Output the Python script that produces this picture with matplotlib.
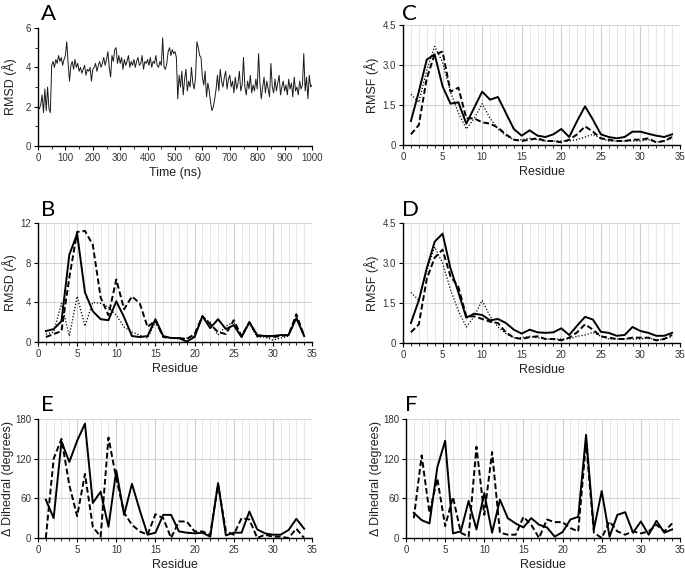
import matplotlib
matplotlib.use("Agg")
import matplotlib.pyplot as plt
from matplotlib.ticker import MultipleLocator
import numpy as np

# ---------------- data ----------------
time_ns = list(range(0, 1001, 5))
rmsd_time = [
    2.0, 1.9, 2.1, 2.6, 1.7, 2.9, 1.8, 3.0, 1.9, 1.7,
    4.1, 4.3, 4.0, 4.4, 4.2, 4.6, 4.3, 4.5, 4.1, 4.4,
    4.6, 5.3, 4.2, 3.3, 4.1, 4.3, 3.9, 4.4, 4.0, 4.2,
    3.8, 4.0, 3.7, 3.9, 4.1, 3.6, 3.9, 3.8, 4.0, 3.3,
    3.9, 4.0, 4.2, 3.8, 4.1, 4.3, 4.0, 4.2, 4.5, 4.1,
    4.4, 4.8, 4.0, 3.5, 4.6, 4.3, 4.9, 5.0, 4.2, 4.6,
    4.2, 4.5, 3.9, 4.4, 4.1, 4.3, 4.6, 4.0, 4.3, 4.1,
    4.4, 4.0, 4.3, 4.5, 4.1, 4.2, 4.6, 3.9, 4.3, 4.2,
    4.4, 4.1, 4.5, 4.0, 4.3, 4.2, 4.6, 4.1, 4.0, 4.3,
    4.1, 5.5, 4.0, 3.9, 4.2, 4.8, 5.0, 4.6, 4.9, 4.7,
    4.8, 4.5, 2.4, 3.6, 3.0, 3.8, 2.6, 3.4, 3.9, 2.8,
    3.3, 3.0, 4.0, 3.2, 2.9, 3.5, 5.3, 5.0, 4.6, 4.5,
    3.5, 3.1, 3.8, 2.5, 3.2, 2.8, 2.2, 1.8, 2.0, 2.4,
    2.9, 3.6, 2.8, 3.9, 3.3, 3.0, 3.5, 3.8, 2.9, 3.4,
    3.6, 3.0, 3.3, 2.7, 3.5, 2.9, 3.2, 3.8, 2.8, 3.1,
    4.5, 3.0, 2.6, 3.3, 2.9, 3.6, 2.7, 3.1, 2.8, 3.4,
    2.9, 4.7, 3.2, 2.4, 3.0, 3.5, 2.7, 3.3, 2.9, 2.5,
    4.2, 3.0, 2.7, 3.4, 2.8, 3.2, 3.6, 2.6, 3.0, 3.3,
    2.8, 3.1, 2.6, 3.4, 2.9, 3.2, 2.5, 3.5, 2.8, 3.0,
    2.6, 3.3, 2.9, 3.1, 4.7, 2.8, 3.5, 2.4, 3.6, 3.0,
    3.1,
]

residues = list(range(1, 35))

B_solid = [1.1, 1.3, 2.1, 8.8, 10.9, 5.0, 3.1, 2.3, 2.2, 4.1, 2.5, 0.6, 0.5, 0.6, 2.3, 0.6, 0.4,
           0.4, 0.05, 0.5, 2.6, 1.4, 2.3, 1.3, 1.7, 0.5, 2.0, 0.7, 0.6, 0.6, 0.7, 0.7, 2.4, 0.6]
B_dashed = [0.5, 0.8, 1.1, 6.5, 11.1, 11.2, 9.8, 4.5, 2.7, 6.3, 3.3, 4.6, 3.9, 1.5, 2.2, 0.5, 0.4,
            0.4, 0.3, 0.8, 2.6, 1.8, 1.0, 0.8, 2.2, 0.6, 2.0, 0.6, 0.6, 0.5, 0.6, 0.7, 2.8, 0.6]
B_dotted = [0.8, 1.0, 3.9, 0.6, 4.6, 1.6, 4.0, 3.9, 3.5, 2.7, 1.5, 1.0, 0.7, 0.4, 2.0, 0.5, 0.4,
            0.3, 0.4, 0.6, 2.5, 2.0, 0.7, 1.6, 2.0, 0.5, 1.9, 0.5, 0.5, 0.2, 0.4, 0.6, 2.6, 0.6]

C_solid = [0.9, 2.0, 3.2, 3.4, 2.2, 1.55, 1.6, 0.8, 1.4, 2.0, 1.7, 1.8, 1.2, 0.6, 0.35, 0.55, 0.35,
           0.3, 0.4, 0.6, 0.3, 0.9, 1.45, 0.95, 0.4, 0.3, 0.25, 0.3, 0.5, 0.5, 0.42, 0.35, 0.3, 0.4]
C_dashed = [0.4, 0.75, 2.5, 3.4, 3.5, 2.0, 2.15, 1.0, 1.0, 0.85, 0.8, 0.65, 0.4, 0.2, 0.15, 0.2, 0.25,
            0.15, 0.15, 0.1, 0.2, 0.4, 0.7, 0.5, 0.25, 0.2, 0.15, 0.15, 0.2, 0.2, 0.25, 0.1, 0.15, 0.3]
C_dotted = [1.9, 1.6, 2.8, 3.7, 3.1, 2.0, 1.2, 0.6, 1.0, 1.55, 1.0, 0.6, 0.35, 0.2, 0.2, 0.25, 0.2,
            0.15, 0.15, 0.15, 0.15, 0.2, 0.3, 0.4, 0.25, 0.15, 0.15, 0.15, 0.15, 0.15, 0.2, 0.1, 0.15, 0.25]

D_solid = [0.75, 1.6, 2.8, 3.8, 4.1, 2.8, 1.9, 0.95, 1.1, 1.05, 0.85, 0.9, 0.75, 0.5, 0.35, 0.5, 0.4,
           0.38, 0.4, 0.55, 0.3, 0.65, 0.98, 0.88, 0.42, 0.38, 0.27, 0.3, 0.6, 0.45, 0.38, 0.27, 0.27, 0.38]
D_dashed = [0.4, 0.7, 2.4, 3.2, 3.5, 2.5, 2.1, 1.0, 1.0, 0.9, 0.8, 0.75, 0.4, 0.2, 0.15, 0.22, 0.25,
            0.15, 0.15, 0.1, 0.2, 0.4, 0.7, 0.5, 0.25, 0.2, 0.15, 0.15, 0.2, 0.2, 0.2, 0.1, 0.15, 0.3]
D_dotted = [1.9, 1.6, 2.7, 3.6, 3.0, 2.0, 1.2, 0.6, 1.0, 1.6, 1.0, 0.6, 0.35, 0.2, 0.2, 0.25, 0.2,
            0.15, 0.15, 0.15, 0.15, 0.25, 0.3, 0.4, 0.25, 0.15, 0.15, 0.15, 0.15, 0.15, 0.2, 0.1, 0.15, 0.25]

E_solid = [58, 30, 146, 115, 147, 173, 53, 70, 17, 102, 35, 82, 42, 5, 8, 35, 35,
           10, 8, 7, 8, 2, 83, 4, 8, 8, 40, 13, 7, 5, 5, 12, 29, 14]
E_dashed = [0, 120, 150, 80, 33, 97, 17, 2, 152, 90, 38, 20, 10, 5, 36, 30, 0,
            25, 25, 10, 10, 5, 82, 10, 5, 30, 28, 0, 5, 2, 2, 0, 14, 0]

F_solid = [38, 27, 22, 107, 147, 7, 10, 56, 13, 68, 8, 58, 30, 22, 16, 30, 20,
           16, 2, 9, 28, 32, 156, 13, 71, 2, 35, 39, 8, 25, 5, 26, 8, 13]
F_dashed = [30, 125, 38, 90, 18, 62, 8, 2, 138, 35, 130, 8, 5, 5, 32, 20, 0,
            28, 24, 24, 15, 10, 145, 8, 0, 25, 10, 5, 10, 7, 10, 20, 10, 22]

# ---------------- figure ----------------
plt.rcParams['font.family'] = ['Liberation Sans', 'DejaVu Sans']
fig = plt.figure(figsize=(6.85, 5.70), dpi=100)

W, H = 685.0, 570.0
def ax_at(l, r, t, b):
    return fig.add_axes([l / W, 1 - b / H, (r - l) / W, (b - t) / H])

TICK_FS = 7
LAB_FS = 9
TICK_COL = '#333333'

def style_common(ax):
    for s in ('top', 'right'):
        ax.spines[s].set_visible(False)
    for s in ('left', 'bottom'):
        ax.spines[s].set_linewidth(1.0)
        ax.spines[s].set_color('black')
    ax.tick_params(axis='both', labelsize=TICK_FS, labelcolor=TICK_COL, length=3,
                   width=0.8, direction='out', pad=2)
    ax.tick_params(which='minor', length=2, width=0.6, direction='out')

def residue_axes(ax, ymax, ystep, ylabel, yfmt, label_x):
    style_common(ax)
    ax.set_xlim(0, 35)
    ax.set_ylim(0, ymax)
    ax.xaxis.set_major_locator(MultipleLocator(5))
    ax.xaxis.set_minor_locator(MultipleLocator(1))
    ax.yaxis.set_major_locator(MultipleLocator(ystep))
    ax.yaxis.set_major_formatter(plt.FuncFormatter(lambda v, p: yfmt.format(v) if v != 0 else '0'))
    ax.grid(which='minor', axis='x', color='#e6e6e6', lw=0.7)
    ax.grid(which='major', axis='x', color='#cfcfcf', lw=0.8)
    ax.grid(which='major', axis='y', color='#d4d4d4', lw=0.8)
    ax.set_axisbelow(True)
    ax.set_xlabel('Residue', fontsize=LAB_FS, color='#222222', labelpad=3)
    ax.set_ylabel(ylabel, fontsize=LAB_FS, color='#222222')
    ax.yaxis.set_label_coords(label_x, 0.5)

def draw3(ax, s, d, o=None):
    ax.plot(residues, s, color='black', lw=1.4, ls='-', clip_on=False, zorder=4)
    ax.plot(residues, d, color='black', lw=1.4, ls=(0, (3, 1.5)), clip_on=False, zorder=3)
    if o is not None:
        ax.plot(residues, o, color='black', lw=0.9, ls=(0, (1, 1.5)), clip_on=False, zorder=2)

# Panel A
axA = ax_at(38, 312, 28, 146)
style_common(axA)
axA.plot(time_ns, rmsd_time, color='#1a1a1a', lw=0.7)
axA.set_xlim(0, 1000)
axA.set_ylim(0, 6)
axA.xaxis.set_major_locator(MultipleLocator(100))
axA.xaxis.set_minor_locator(MultipleLocator(50))
axA.yaxis.set_major_locator(MultipleLocator(2))
axA.yaxis.set_minor_locator(MultipleLocator(1))
axA.set_xlabel('Time (ns)', fontsize=LAB_FS, color='#222222', labelpad=3)
axA.set_ylabel('RMSD (Å)', fontsize=LAB_FS, color='#222222')
axA.yaxis.set_label_coords(-0.078, 0.5)

# Panel B
axB = ax_at(38, 312, 223, 342)
residue_axes(axB, 12, 4, 'RMSD (Å)', '{:.0f}', -0.078)
draw3(axB, B_solid, B_dashed, B_dotted)

# Panel C
axC = ax_at(403, 680, 25, 145)
residue_axes(axC, 4.5, 1.5, 'RMSF (Å)', '{:.1f}', -0.087)
draw3(axC, C_solid, C_dashed, C_dotted)

# Panel D
axD = ax_at(403, 680, 223, 343)
residue_axes(axD, 4.5, 1.5, 'RMSF (Å)', '{:.1f}', -0.087)
draw3(axD, D_solid, D_dashed, D_dotted)

# Panel E
axE = ax_at(38, 312, 419, 538)
residue_axes(axE, 180, 60, 'Δ Dihedral (degrees)', '{:.0f}', -0.088)
draw3(axE, E_solid, E_dashed)

# Panel F
axF = ax_at(406, 680, 419, 538)
residue_axes(axF, 180, 60, 'Δ Dihedral (degrees)', '{:.0f}', -0.088)
draw3(axF, F_solid, F_dashed)

# Panel letters
letters = [('A', 41, 20), ('C', 402, 20), ('B', 41, 216), ('D', 402, 216), ('E', 41, 411), ('F', 405, 411)]
for txt, x, y in letters:
    fig.text(x / W, 1 - y / H, txt, fontsize=16, fontfamily=['Lato', 'DejaVu Sans'],
             ha='left', va='baseline', color='black')

fig.savefig('out.png', dpi=100)
